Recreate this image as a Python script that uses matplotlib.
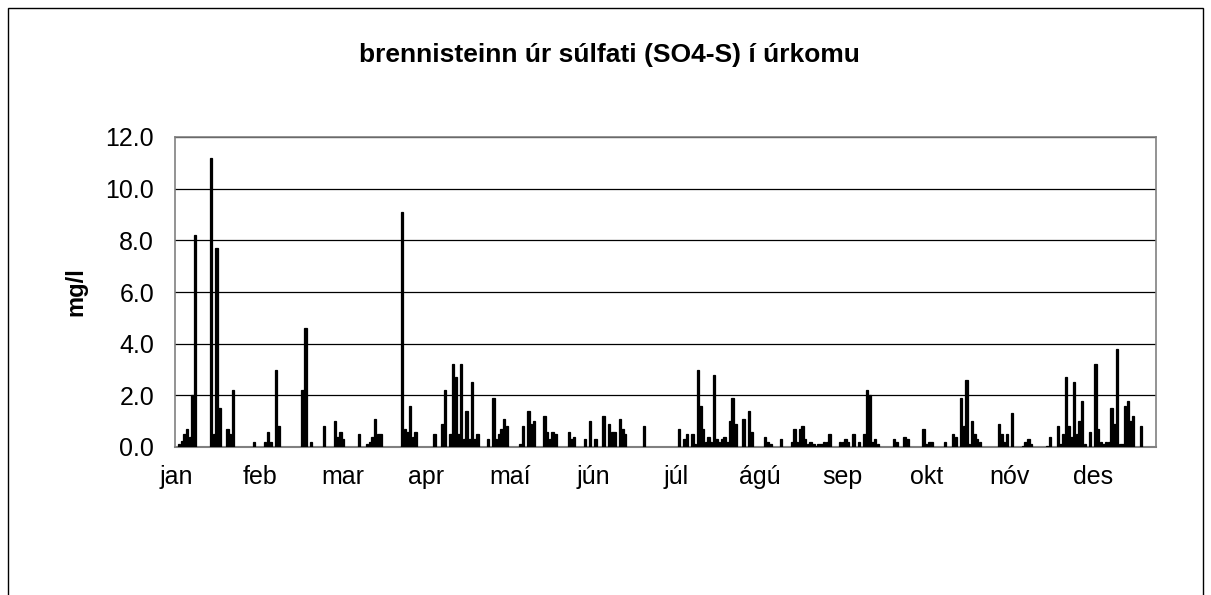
import matplotlib
matplotlib.use("Agg")
import matplotlib.pyplot as plt
from matplotlib.patches import Rectangle

# ---- data (day of year index 0..364, value mg/l); days not listed are zero ----
day_index = [
    1, 2, 3, 4, 5, 6, 7,
    13, 14, 15, 16, 19, 20, 21, 29, 33, 34, 35, 37, 38,
    47, 48, 50, 55, 59, 60, 61, 62, 68, 71, 72, 73, 74, 75, 76,
    84, 85, 86, 87, 88, 89, 96, 99, 100,
    102, 103, 104, 105, 106, 107, 108, 109, 110, 111, 112,
    116, 118, 119, 120, 121, 122, 123, 128, 129, 131, 132, 133,
    137, 138, 139, 140, 141, 146, 147, 148, 152, 154, 156, 159,
    161, 162, 163, 165, 166, 167, 174,
    187, 189, 190, 192, 193, 194, 195, 196, 197, 198, 199, 200,
    201, 202, 203, 204, 205, 206, 207, 208, 211, 213, 214,
    219, 220, 221, 225, 229, 230, 231, 232, 233, 234, 235, 236,
    237, 238, 239, 240, 241, 242, 243, 247, 248, 249, 250, 252, 254,
    256, 257, 258, 259, 260, 261, 267, 268, 271, 272,
    278, 279, 280, 281, 286, 289, 290, 292, 293, 294, 295, 296,
    297, 298, 299, 306, 307, 308, 309, 311, 315, 316, 317, 318,
    324, 325, 328, 329, 330, 331, 332, 333, 334, 335, 336, 337, 338,
    340, 342, 343, 344, 345, 346, 347, 348, 349, 350, 351, 352,
    353, 354, 355, 356, 359,
]
so4_s = [
    0.13, 0.23, 0.5, 0.7, 0.4, 2.0, 8.2,
    11.2, 0.5, 7.7, 1.5, 0.7, 0.5, 2.2, 0.2, 0.2, 0.6, 0.2, 3.0, 0.8,
    2.2, 4.6, 0.2, 0.8, 1.0, 0.4, 0.6, 0.3, 0.5, 0.1, 0.2, 0.4, 1.1, 0.5, 0.5,
    9.1, 0.7, 0.6, 1.6, 0.4, 0.6, 0.5, 0.9, 2.2,
    0.5, 3.2, 2.7, 0.5, 3.2, 0.3, 1.4, 0.3, 2.5, 0.3, 0.5,
    0.3, 1.9, 0.3, 0.5, 0.7, 1.1, 0.8, 0.1, 0.8, 1.4, 0.9, 1.0,
    1.2, 0.6, 0.3, 0.6, 0.5, 0.6, 0.3, 0.4, 0.3, 1.0, 0.3, 1.2,
    0.9, 0.6, 0.6, 1.1, 0.7, 0.5, 0.8,
    0.7, 0.3, 0.5, 0.5, 0.1, 3.0, 1.6, 0.7, 0.2, 0.4, 0.2, 2.8,
    0.3, 0.2, 0.3, 0.4, 0.2, 1.0, 1.9, 0.9, 1.1, 1.4, 0.6,
    0.4, 0.2, 0.1, 0.3, 0.2, 0.7, 0.2, 0.7, 0.8, 0.3, 0.1, 0.2,
    0.1, 0.05, 0.1, 0.1, 0.2, 0.2, 0.5, 0.2, 0.2, 0.3, 0.2, 0.5, 0.2,
    0.5, 2.2, 2.0, 0.2, 0.3, 0.1, 0.3, 0.2, 0.4, 0.3,
    0.7, 0.1, 0.2, 0.2, 0.2, 0.5, 0.4, 1.9, 0.8, 2.6, 0.1, 1.0,
    0.5, 0.3, 0.2, 0.9, 0.5, 0.2, 0.5, 1.3, 0.05, 0.2, 0.3, 0.1,
    0.05, 0.4, 0.8, 0.1, 0.5, 2.7, 0.8, 0.4, 2.5, 0.5, 1.0, 1.8, 0.1,
    0.6, 3.2, 0.7, 0.2, 0.1, 0.2, 0.2, 1.5, 0.9, 3.8, 0.1, 0.1,
    1.6, 1.8, 1.0, 1.2, 0.8,
]
month_labels = ["jan", "feb", "mar", "apr", "maí", "jún",
                "júl", "ágú", "sep", "okt", "nóv", "des"]
n_days = 365
label_step = 31

title = "brennisteinn úr súlfati (SO4-S) í úrkomu"
ylabel = "mg/l"

plt.rcParams["font.family"] = ["Liberation Sans", "DejaVu Sans"]

W, H = 1211, 595
fig = plt.figure(figsize=(W / 100, H / 100), dpi=100)
fig.patch.set_facecolor("white")

# outer chart border
fig.patches.append(Rectangle((8 / W, -0.05), (1203 - 8) / W, 1.05 - 8 / H,
                             transform=fig.transFigure, fill=False,
                             edgecolor="black", linewidth=1.0))

ax = fig.add_axes([175 / W, 1 - 447 / H, (1156 - 175) / W, (447 - 137) / H])
ax.bar(day_index, so4_s, width=0.9, color="black", edgecolor="black",
       linewidth=0.9, zorder=3)

ax.set_xlim(-0.5, n_days - 0.5)
ax.set_ylim(0, 12)
ax.set_yticks([0, 2, 4, 6, 8, 10, 12])
ax.set_yticklabels([f"{v:.1f}" for v in [0, 2, 4, 6, 8, 10, 12]], fontsize=18)
ax.set_xticks(list(range(0, n_days, label_step))[:len(month_labels)])
ax.set_xticklabels(month_labels, fontsize=18)
ax.tick_params(axis="both", length=0)
ax.tick_params(axis="y", pad=15)
ax.tick_params(axis="x", pad=13)

ax.yaxis.grid(True, color="black", linewidth=0.9, zorder=0)
ax.set_axisbelow(True)
for side in ["top", "right", "left"]:
    ax.spines[side].set_color("#808080")
    ax.spines[side].set_linewidth(1.2)
ax.spines["bottom"].set_color("#808080")
ax.spines["bottom"].set_linewidth(1.5)

ax.set_ylabel(ylabel, fontsize=17, fontweight="bold", labelpad=13)
fig.text(609 / W, 1 - 55 / H, title, ha="center", va="center",
         fontsize=19, fontweight="bold")

fig.savefig("out.png", dpi=100)
